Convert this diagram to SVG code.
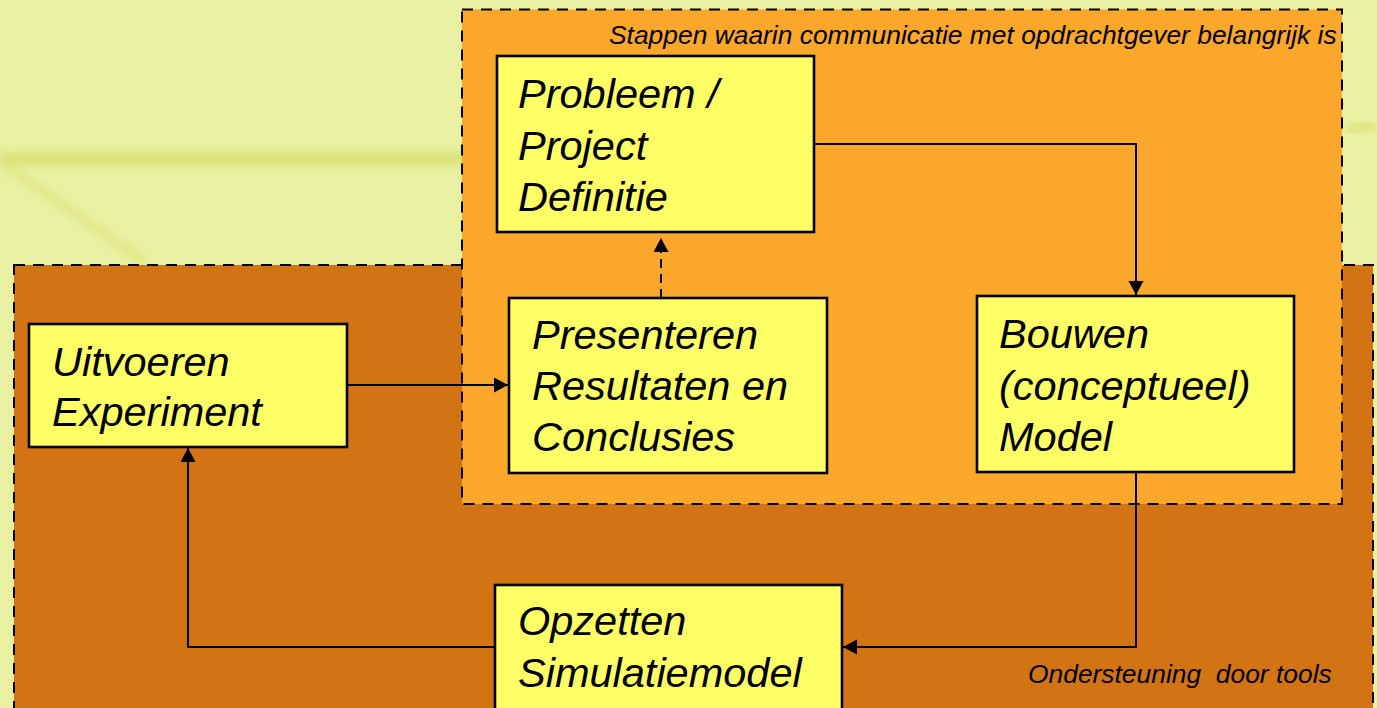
<svg xmlns="http://www.w3.org/2000/svg" width="1377" height="708" viewBox="0 0 1377 708">
<style>
.region{stroke:#000;stroke-width:2;stroke-dasharray:11 8}
.box{fill:#FFFF66;stroke:#000;stroke-width:2.6}
.big{font-family:"Liberation Sans",Arial,sans-serif;font-style:italic;font-size:41.5px;fill:#000}
.small{font-family:"Liberation Sans",Arial,sans-serif;font-style:italic;font-size:26.4px;fill:#000;white-space:pre}
.conn{fill:none;stroke:#000;stroke-width:2}
.dash{stroke-dasharray:9 6}
</style>
<defs>
<marker id="arr" markerUnits="userSpaceOnUse" markerWidth="16" markerHeight="16" refX="14" refY="7.5" orient="auto">
<path d="M0,0 L14,7.5 L0,15 z" fill="#000"/>
</marker>
<filter id="blur" x="-20%" y="-50%" width="140%" height="200%"><feGaussianBlur stdDeviation="4"/></filter>
</defs>
<g id="background">
<rect x="0" y="0" width="1377" height="708" fill="#E9F0A2"/>
<rect x="0" y="152" width="475" height="14" fill="#D6DE66" opacity="0.7" filter="url(#blur)"/>
<path d="M5,165 L145,262" stroke="#D9E172" stroke-width="8" opacity="0.6" filter="url(#blur)"/>
<path d="M1345,130 L1377,125" stroke="#D6DE66" stroke-width="10" opacity="0.6" filter="url(#blur)"/>
</g>
<g id="region-tools">
<rect class="region" x="14" y="265" width="1359" height="470" fill="#D27314"/>
<text class="small" x="1028" y="683">Ondersteuning  door tools</text>
</g>
<g id="region-communicatie">
<rect class="region" x="462" y="9.5" width="880" height="494.5" fill="#FAA72B"/>
<text class="small" x="609" y="44">Stappen waarin communicatie met opdrachtgever belangrijk is</text>
</g>
<g id="connectors">
<path class="conn" d="M814,144 H1136 V295" marker-end="url(#arr)"/>
<path class="conn dash" d="M661,298 V238" marker-end="url(#arr)"/>
<path class="conn" d="M347,385 H508" marker-end="url(#arr)"/>
<path class="conn" d="M1136,472 V647 H843" marker-end="url(#arr)"/>
<path class="conn" d="M495,647 H188 V448" marker-end="url(#arr)"/>
</g>
<g id="node-probleem">
<rect class="box" x="497" y="56" width="317" height="176"/>
<text class="big" x="518" y="108">Probleem /</text>
<text class="big" x="518" y="160">Project</text>
<text class="big" x="518" y="211">Definitie</text>
</g>
<g id="node-presenteren">
<rect class="box" x="509" y="298" width="318" height="175"/>
<text class="big" x="532" y="349">Presenteren</text>
<text class="big" x="532" y="400">Resultaten en</text>
<text class="big" x="532" y="451">Conclusies</text>
</g>
<g id="node-uitvoeren">
<rect class="box" x="29" y="324" width="318" height="123"/>
<text class="big" x="52" y="376">Uitvoeren</text>
<text class="big" x="52" y="426">Experiment</text>
</g>
<g id="node-bouwen">
<rect class="box" x="977" y="296" width="317" height="176"/>
<text class="big" x="999" y="348">Bouwen</text>
<text class="big" x="999" y="400">(conceptueel)</text>
<text class="big" x="999" y="451">Model</text>
</g>
<g id="node-opzetten">
<rect class="box" x="495" y="585" width="347" height="140"/>
<text class="big" x="518" y="635">Opzetten</text>
<text class="big" x="518" y="687">Simulatiemodel</text>
</g>
</svg>
